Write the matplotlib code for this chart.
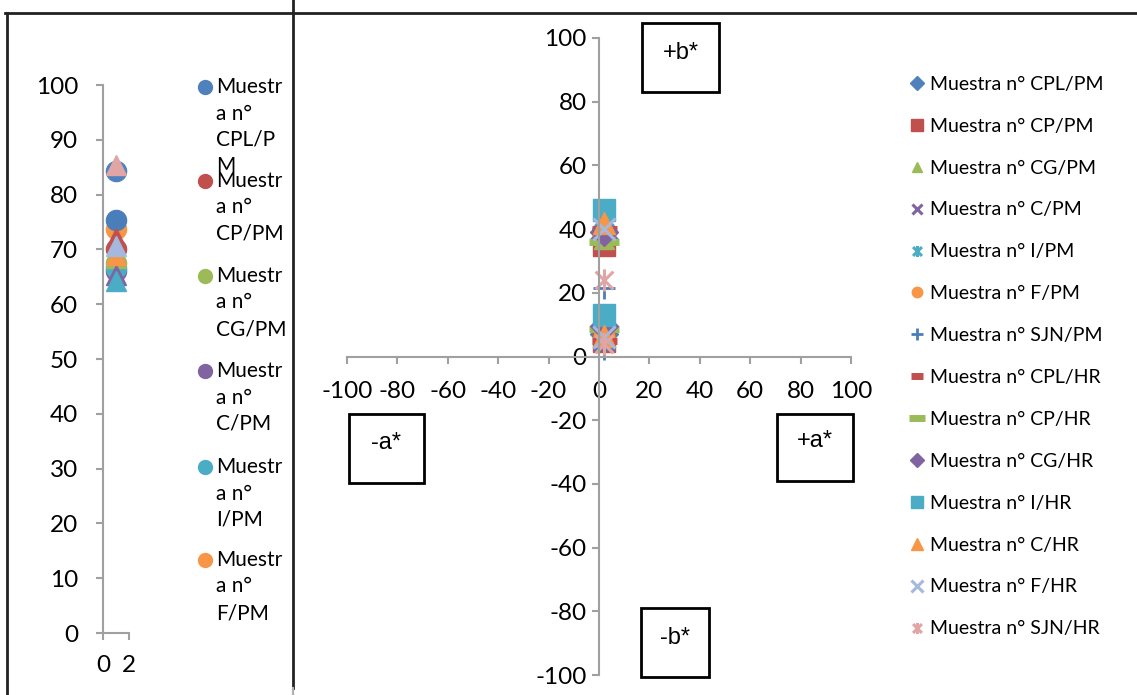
import matplotlib
matplotlib.use("Agg")
import matplotlib.pyplot as plt
from matplotlib.path import Path
from matplotlib.patches import Rectangle
from matplotlib.lines import Line2D

# ---- data -------------------------------------------------------------
series_names = [
    "Muestra n° CPL/PM", "Muestra n° CP/PM", "Muestra n° CG/PM",
    "Muestra n° C/PM", "Muestra n° I/PM", "Muestra n° F/PM",
    "Muestra n° SJN/PM", "Muestra n° CPL/HR", "Muestra n° CP/HR",
    "Muestra n° CG/HR", "Muestra n° I/HR", "Muestra n° C/HR",
    "Muestra n° F/HR", "Muestra n° SJN/HR",
]
colors = [
    "#4F81BD", "#C0504D", "#9BBB59", "#8064A2", "#4BACC6", "#F79646",
    "#4A7EBB", "#C0504D", "#9BBB59", "#8064A2", "#4BACC6", "#F79646",
    "#A5B8DE", "#E0A5A4",
]

# L* (luminosity) per sample, plotted at x = 1
l_x = 1
l_values = [84.3, 70.0, 67.5, 66.0, 66.6, 73.8, 75.3,
            72.0, 68.5, 65.3, 64.2, 69.0, 70.6, 85.4]

# a*, b* chromatic coordinates (two readings per sample)
a_values = [
    [2.0, 2.0], [2.0, 2.0], [2.0, 2.0], [2.0, 2.0], [2.0, 2.0],
    [2.0, 2.0], [2.0, 2.0], [2.0, 2.0], [2.0, 2.0], [2.0, 2.0],
    [2.0, 2.0], [2.0, 2.0], [2.0, 2.0], [2.0, 2.0],
]
b_values = [
    [37.0, 7.0], [35.0, 5.0], [37.0, 8.0], [38.0, 9.0], [39.0, 7.0],
    [38.0, 6.0], [21.5, 2.5], [40.0, 5.0], [36.0, 8.5], [39.0, 9.5],
    [46.0, 13.0], [42.0, 6.5], [40.0, 6.0], [24.0, 4.0],
]

left_ticks_y = list(range(0, 101, 10))
left_ticks_x = [0, 2]
ab_ticks = list(range(-100, 101, 20))

# wrapped legend labels of the narrow L* chart (first six samples)
left_legend_labels = [
    ["Muestr", "a n°", "CPL/P", "M"],
    ["Muestr", "a n°", "CP/PM"],
    ["Muestr", "a n°", "CG/PM"],
    ["Muestr", "a n°", "C/PM"],
    ["Muestr", "a n°", "I/PM"],
    ["Muestr", "a n°", "F/PM"],
]

# ---- styling ----------------------------------------------------------
FONT = "Lato"
plt.rcParams["font.family"] = [FONT, "DejaVu Sans"]
plt.rcParams["axes.unicode_minus"] = False
AXIS_GRAY = "#A0A0A0"
TICK_FS = 17.5

star = Path([(-1, -1), (1, 1), (-1, 1), (1, -1), (0, -1.25), (0, 1.25)],
            [Path.MOVETO, Path.LINETO, Path.MOVETO, Path.LINETO,
             Path.MOVETO, Path.LINETO])
ab_markers = ["D", "s", "^", "x", star, "o", "+", "_", "_", "D", "s", "^", "x", star]
ab_sizes = [14, 16, 15, 15, 16, 15, 16, 18, 22, 14, 16, 16, 16, 16]
ab_mew = [1, 1, 1, 2.2, 2.2, 1, 2.0, 5, 5, 1, 1, 1, 2.2, 2.2]

W, H = 1137, 695
fig = plt.figure(figsize=(W / 100, H / 100), dpi=100)


def fx(px):
    return px / W


def fy(py):
    return 1 - py / H


# frame lines of the surrounding table
fig.add_artist(Line2D([fx(5), fx(W)], [fy(13), fy(13)], color="#222222", lw=2))
fig.add_artist(Line2D([fx(7), fx(7)], [fy(13), fy(H)], color="#222222", lw=2))
fig.add_artist(Line2D([fx(293), fx(293)], [fy(0), fy(688)], color="#222222", lw=2))
fig.add_artist(Line2D([fx(293), fx(293)], [fy(688), fy(H)], color="#B0B0B0", lw=1.5))

# ---- left chart: L* ---------------------------------------------------
axL = fig.add_axes([fx(103), fy(633), fx(129) - fx(103), fy(85) - fy(633)])
for i, (v, c) in enumerate(zip(l_values, colors)):
    mk = "o" if i < 7 else "^"
    axL.plot([l_x], [v], marker=mk, ms=14.5, color=c, mec=c, ls="none")
axL.set_xlim(0, 2)
axL.set_ylim(0, 100)
axL.set_xticks(left_ticks_x)
axL.set_yticks(left_ticks_y)
axL.tick_params(axis="both", colors=AXIS_GRAY, labelcolor="black",
                labelsize=TICK_FS, length=5, width=1.5)
axL.tick_params(axis="y", pad=13)
axL.tick_params(axis="x", pad=11)
for s in ["top", "right"]:
    axL.spines[s].set_visible(False)
for s in ["left", "bottom"]:
    axL.spines[s].set_color(AXIS_GRAY)
    axL.spines[s].set_linewidth(1.5)
axL.patch.set_alpha(0)

# left legend, lines stacked as in a narrow legend box
entry_top = [87, 181, 276, 371, 467, 560]
for lines, top, c in zip(left_legend_labels, entry_top, colors):
    fig.add_artist(Line2D([fx(205)], [fy(top)], marker="o", ms=10,
                          color=c, mec=c, ls="none"))
    for k, line in enumerate(lines):
        fig.text(fx(216), fy(top + 26.5 * k), line, fontsize=15,
                 va="center", ha="left")

# ---- right chart: a* / b* ---------------------------------------------
axR = fig.add_axes([fx(347), fy(675), fx(851) - fx(347), fy(38) - fy(675)])
handles = []
for i in range(len(series_names)):
    h, = axR.plot(a_values[i], b_values[i], marker=ab_markers[i],
                  ms=ab_sizes[i], mew=ab_mew[i], color=colors[i],
                  mec=colors[i], ls="none", label=series_names[i])
    handles.append(h)
axR.set_xlim(-100, 100)
axR.set_ylim(-100, 100)
axR.set_xticks(ab_ticks)
axR.set_yticks(ab_ticks)
axR.spines["left"].set_position(("data", 0))
axR.spines["bottom"].set_position(("data", 0))
for s in ["top", "right"]:
    axR.spines[s].set_visible(False)
for s in ["left", "bottom"]:
    axR.spines[s].set_color(AXIS_GRAY)
    axR.spines[s].set_linewidth(1.5)
axR.tick_params(axis="both", colors=AXIS_GRAY, labelcolor="black",
                labelsize=TICK_FS, length=5, width=1.5)
axR.tick_params(axis="y", pad=4)
axR.tick_params(axis="x", pad=13)
axR.patch.set_alpha(0)

leg = axR.legend(handles=handles, loc="upper left",
                 bbox_to_anchor=(fx(901), fy(68)),
                 bbox_transform=fig.transFigure, frameon=False,
                 fontsize=14, markerscale=0.5, handlelength=0.8,
                 handletextpad=0.3, labelspacing=1.28, borderaxespad=0)

# quadrant label boxes
boxes = [
    ("+b*", 642, 23, 719, 92, 53),
    ("-a*", 349, 414, 424, 483, 443),
    ("+a*", 777, 414, 853, 481, 441),
    ("-b*", 641, 608, 709, 677, 638),
]
for text, x0, y0, x1, y1, ty in boxes:
    fig.add_artist(Rectangle((fx(x0), fy(y1)), fx(x1) - fx(x0), fy(y0) - fy(y1),
                             transform=fig.transFigure, fill=False,
                             ec="black", lw=2))
    fig.text(fx((x0 + x1) / 2), fy(ty), text, fontsize=17,
             family=["Liberation Sans"], ha="center", va="center")

fig.savefig("out.png", dpi=100)
